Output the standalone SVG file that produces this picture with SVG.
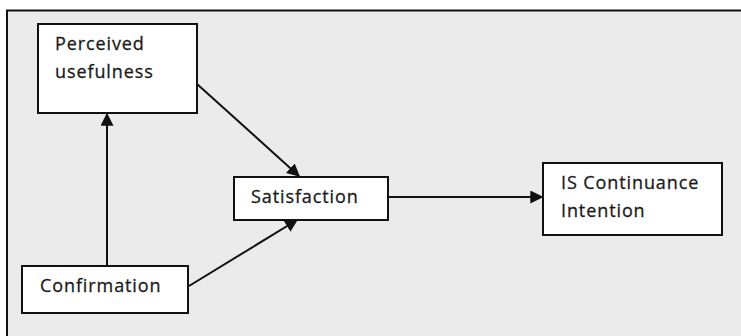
<svg xmlns="http://www.w3.org/2000/svg" width="741" height="336" viewBox="0 0 741 336">
<style>
.node rect{fill:#fff;stroke:#111;stroke-width:2}
.node text{font-family:"Open Sans","Liberation Sans",sans-serif;font-size:18px;letter-spacing:0.9px;fill:#1a1a1a;stroke:#1a1a1a;stroke-width:0.3}
.edge{stroke:#111;stroke-width:2;fill:none;marker-end:url(#ah)}
</style>
<defs>
<marker id="ah" viewBox="0 0 10 10" refX="9" refY="5" markerWidth="6.5" markerHeight="6.5" markerUnits="strokeWidth" orient="auto">
<path d="M0,0 L10,5 L0,10 Z" fill="#111"/>
</marker>
</defs>
<rect x="0" y="0" width="741" height="336" fill="#fff"/>
<rect x="7" y="10" width="734" height="326" fill="#ebebeb"/>
<path d="M7,336 V10.5 H741" stroke="#111" stroke-width="2" fill="none"/>
<g id="connectors">
<path class="edge" d="M107,266 V114"/>
<path class="edge" d="M197,84 L299,176"/>
<path class="edge" d="M189,286 L297,220"/>
<path class="edge" d="M388,197 H542"/>
</g>
<g id="perceived" class="node">
<rect x="38" y="24" width="159" height="89"/>
<text x="55" y="50">Perceived</text>
<text x="55" y="78">usefulness</text>
</g>
<g id="satisfaction" class="node">
<rect x="234" y="177" width="154" height="43"/>
<text x="251" y="203">Satisfaction</text>
</g>
<g id="confirmation" class="node">
<rect x="22" y="266" width="166" height="47"/>
<text x="40" y="292">Confirmation</text>
</g>
<g id="continuance" class="node">
<rect x="543" y="163" width="179" height="72"/>
<text x="561" y="189">IS Continuance</text>
<text x="561" y="217">Intention</text>
</g>
</svg>
